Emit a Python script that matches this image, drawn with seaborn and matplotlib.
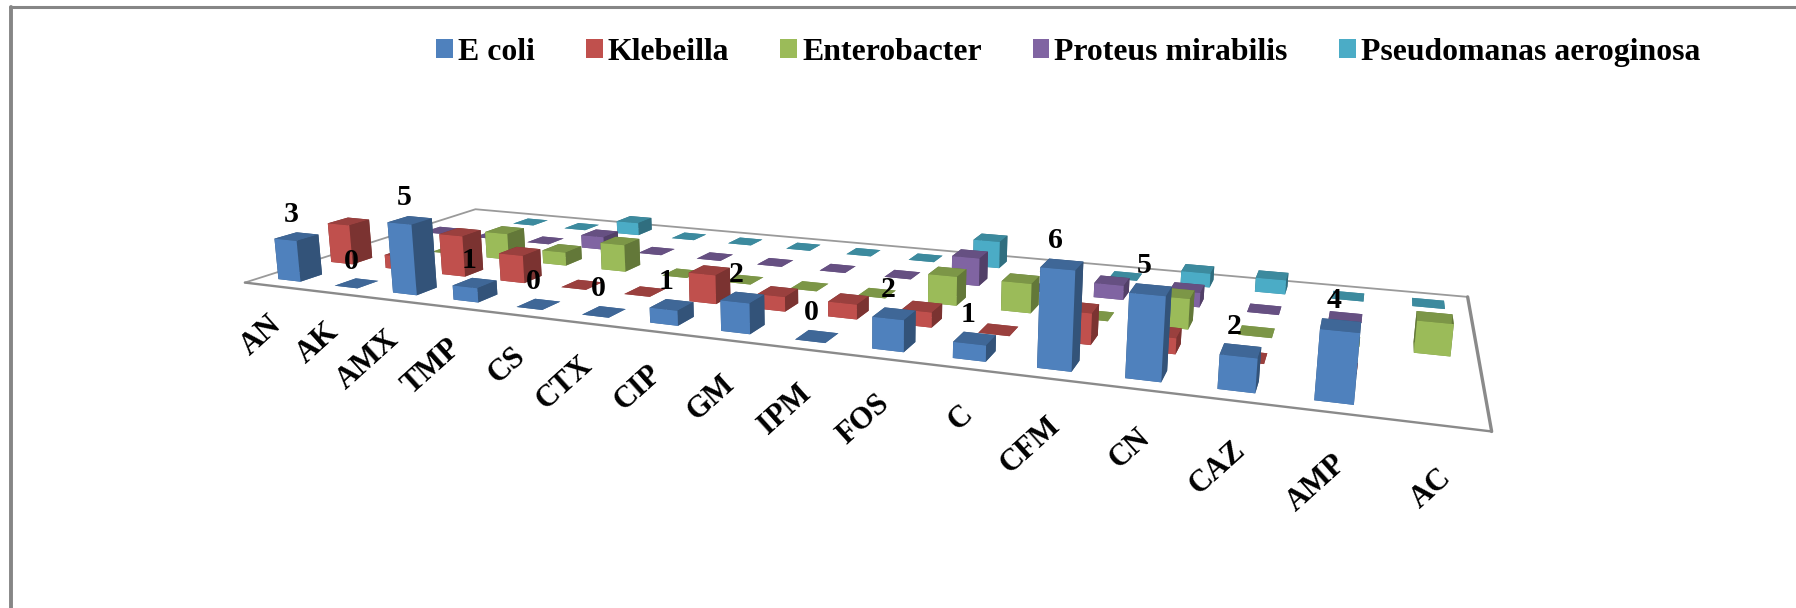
#!/usr/bin/env python3
import numpy as np
import matplotlib
matplotlib.use('Agg')
import matplotlib.pyplot as plt
import seaborn as sns
from matplotlib.patches import Patch
from mpl_toolkits.mplot3d import proj3d

# antibiotics along the floor of the chart
categories = ['AN', 'AK', 'AMX', 'TMP', 'CS', 'CTX', 'CIP', 'GM',
              'IPM', 'FOS', 'C', 'CFM', 'CN', 'CAZ', 'AMP', 'AC']
series_names = ['E coli', 'Klebeilla', 'Enterobacter', 'Proteus mirabilis', 'Pseudomanas aeroginosa']

nan = float('nan')
e_coli = [3, 0, 5, 1, 0, 0, 1, 2, 0, 2, 1, 6, 5, 2, 4, nan]
klebeilla = [3, 1, 3, 2, 0, 0, 2, 1, 1, 1, 0, 2, 1, 0, 0, nan]
enterobacter = [nan, 0, 2, 1, 2, 0, 0, 0, 0, 2, 2, 0, 2, 0, 0, 2]
proteus = [0, 0, 0, 1, 0, 0, 0, 0, 0, 2, 0, 1, 1, 0, 0, nan]
pseudomonas = [nan, 0, 0, 1, 0, 0, 0, 0, 0, 2, 0, 0, 1, 1, 0, 0]

series = [e_coli, klebeilla, enterobacter, proteus, pseudomonas]
colors = ['#4F81BD', '#C0504D', '#9BBB59', '#8064A2', '#4BACC6']

W, H = 1796, 608
S = 1796.0
BAR_W, BAR_D = 0.396, 0.402
TOP_SHADE, SIDE_SHADE = 0.80, 0.64

sns.set_theme(style='white')
plt.rcParams['font.family'] = ['Liberation Serif', 'DejaVu Serif']
plt.rcParams['font.weight'] = 'bold'
palette = sns.color_palette(colors)

fig = plt.figure(figsize=(W / 100, H / 100), dpi=100, facecolor='white')
cx, cy = 818.48, 265.16
ax = fig.add_axes([(cx - S / 2) / W, (H - cy - S / 2) / H, S / W, S / H],
                  projection='3d', computed_zorder=False)
ax.set_facecolor('none')

# floor outline, the near edges come out heavier in the picture
ax.plot([0, 0, 16], [0, 5, 5], [0, 0, 0], color='#9a9a9a', lw=1.3, zorder=1)
ax.plot([0, 16], [0, 0], [0, 0], color='#8a8a8a', lw=1.7, zorder=1)
ax.plot([16, 16], [0, 5], [0, 0], color='#8a8a8a', lw=2.4, zorder=1)

# back row first, so the front rows paint over it
z = 2
for j in reversed(range(len(series))):
    base = np.array(palette[j])
    top = tuple(base * TOP_SHADE)
    side = tuple(base * SIDE_SHADE)
    front = tuple(base)
    # order of faces in bar3d: -z, +z, -y, +y, -x, +x
    faces = [top, top, front, side, side, side]
    for i, v in enumerate(series[j]):
        if np.isnan(v):
            continue
        ax.bar3d(i + .5 - BAR_W / 2, j + .5 - BAR_D / 2, 0, BAR_W, BAR_D, v,
                 color=faces, shade=False, linewidth=0, zorder=z)
        z += 1

ax.set_xlim(0, 16, view_margin=0)
ax.set_ylim(0, 5, view_margin=0)
ax.set_zlim(0, 7, view_margin=0)
ax.set_axis_off()
ax.view_init(13.2215, -68.5579, 0.0973)
ax.set_proj_type('persp', focal_length=0.1423)
ax.set_box_aspect((1, 0.3351, 0.0862), zoom=0.6692)
ax.apply_aspect()


def flat_text(x, y, zv, s, **kw):
    # Text3D throws the rotation away, so go to the 2d view coordinates first
    px, py, _ = proj3d.proj_transform(x, y, zv, ax.get_proj())
    ax.text2D(px, py, s, transform=ax.transData, color='black', **kw)


for i, name in enumerate(categories):
    flat_text(i + .63, -.1, -2.35, name, rotation=42, ha='right', va='center',
              rotation_mode='anchor', fontsize=22, zorder=500)

for i, v in enumerate(e_coli):
    if not np.isnan(v):
        flat_text(i + .42, .5, v + .6, str(int(v)), ha='center', va='bottom',
                  fontsize=21.5, zorder=501)

handles = [Patch(facecolor=c, edgecolor='none') for c in colors]
fig.legend(handles, series_names, loc='upper left', bbox_to_anchor=(436 / W, 1 - 38 / H), ncol=5,
           frameon=False, fontsize=22.9, labelcolor='black', handlelength=0.53, handleheight=0.53,
           handletextpad=0.16, columnspacing=1.6, borderaxespad=0, borderpad=0)

# chart frame, only top and left survive in the picture
fig.add_artist(plt.Line2D([10 / W, 1], [1 - 7 / H, 1 - 7 / H], color='#868686', lw=2.2))
fig.add_artist(plt.Line2D([10.5 / W, 10.5 / W], [0, 1 - 7 / H], color='#868686', lw=2.8))

fig.savefig('out.png', dpi=100, facecolor='white')
